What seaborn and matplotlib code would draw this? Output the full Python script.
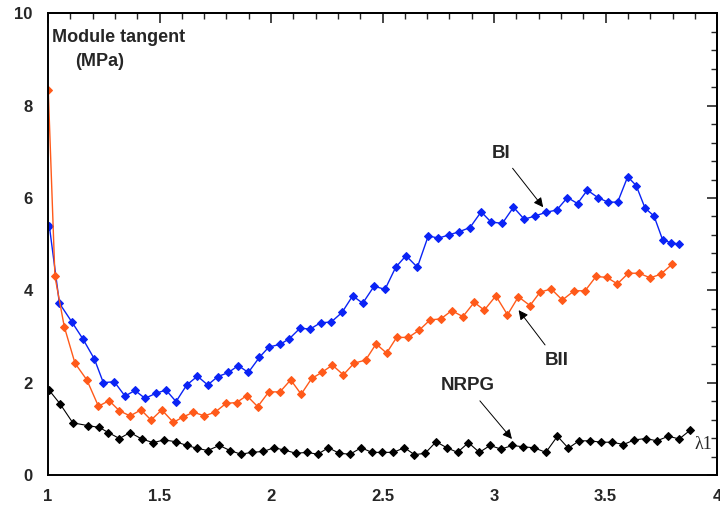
import numpy as np
import pandas as pd
import matplotlib
matplotlib.use('Agg')
import matplotlib.pyplot as plt
from matplotlib.ticker import MultipleLocator, FuncFormatter
import seaborn as sns

# data
bi_x = [1.006, 1.051, 1.106, 1.156, 1.208, 1.248, 1.297, 1.345, 1.390, 1.435, 1.484, 1.529,
        1.574, 1.622, 1.670, 1.716, 1.761, 1.809, 1.853, 1.898, 1.948, 1.990, 2.040, 2.082,
        2.130, 2.175, 2.223, 2.269, 2.318, 2.366, 2.411, 2.462, 2.511, 2.559, 2.605, 2.656,
        2.705, 2.750, 2.798, 2.844, 2.892, 2.942, 2.986, 3.037, 3.087, 3.135, 3.184, 3.233,
        3.281, 3.329, 3.374, 3.418, 3.465, 3.510, 3.554, 3.599, 3.637, 3.677, 3.717, 3.756,
        3.794, 3.831]
bi_y = [5.39, 3.72, 3.32, 2.95, 2.51, 2.00, 2.02, 1.71, 1.83, 1.66, 1.77, 1.84,
        1.59, 1.95, 2.14, 1.95, 2.13, 2.22, 2.37, 2.22, 2.55, 2.77, 2.83, 2.95,
        3.18, 3.16, 3.30, 3.31, 3.52, 3.88, 3.72, 4.09, 4.02, 4.50, 4.75, 4.50,
        5.18, 5.13, 5.20, 5.27, 5.36, 5.70, 5.48, 5.45, 5.80, 5.54, 5.61, 5.69,
        5.74, 6.01, 5.88, 6.17, 6.01, 5.91, 5.91, 6.46, 6.27, 5.78, 5.61, 5.09,
        5.03, 5.00]

bii_x = [1.001, 1.031, 1.073, 1.121, 1.174, 1.226, 1.274, 1.320, 1.368, 1.417, 1.462, 1.510,
         1.562, 1.607, 1.652, 1.701, 1.749, 1.798, 1.846, 1.891, 1.940, 1.990, 2.040, 2.088,
         2.135, 2.182, 2.227, 2.275, 2.324, 2.372, 2.424, 2.471, 2.518, 2.563, 2.616, 2.665,
         2.713, 2.761, 2.810, 2.860, 2.911, 2.956, 3.008, 3.060, 3.109, 3.161, 3.206, 3.256,
         3.306, 3.359, 3.408, 3.457, 3.505, 3.553, 3.602, 3.650, 3.700, 3.748, 3.797]
bii_y = [8.34, 4.30, 3.21, 2.42, 2.06, 1.49, 1.61, 1.39, 1.28, 1.41, 1.19, 1.41,
         1.14, 1.26, 1.36, 1.28, 1.36, 1.55, 1.57, 1.72, 1.48, 1.80, 1.80, 2.06,
         1.75, 2.09, 2.22, 2.38, 2.17, 2.42, 2.49, 2.84, 2.64, 2.98, 2.98, 3.14,
         3.36, 3.38, 3.56, 3.43, 3.74, 3.57, 3.88, 3.47, 3.86, 3.67, 3.96, 4.03,
         3.79, 3.99, 3.99, 4.30, 4.28, 4.14, 4.37, 4.37, 4.27, 4.35, 4.56]

nrpg_x = [1.006, 1.054, 1.111, 1.178, 1.230, 1.270, 1.320, 1.368, 1.420, 1.472, 1.520, 1.573,
          1.622, 1.667, 1.716, 1.768, 1.816, 1.865, 1.913, 1.966, 2.013, 2.060, 2.112, 2.160,
          2.209, 2.257, 2.306, 2.354, 2.404, 2.452, 2.499, 2.548, 2.598, 2.643, 2.691, 2.740,
          2.788, 2.836, 2.885, 2.934, 2.982, 3.031, 3.082, 3.131, 3.179, 3.232, 3.284, 3.333,
          3.381, 3.430, 3.480, 3.530, 3.580, 3.629, 3.680, 3.730, 3.782, 3.830, 3.879]
nrpg_y = [1.83, 1.54, 1.13, 1.07, 1.03, 0.92, 0.79, 0.92, 0.78, 0.70, 0.76, 0.72,
          0.64, 0.58, 0.53, 0.64, 0.53, 0.45, 0.49, 0.51, 0.59, 0.54, 0.47, 0.49,
          0.45, 0.59, 0.47, 0.45, 0.59, 0.49, 0.49, 0.49, 0.59, 0.44, 0.47, 0.72,
          0.59, 0.49, 0.70, 0.49, 0.64, 0.56, 0.64, 0.61, 0.59, 0.49, 0.84, 0.58,
          0.74, 0.74, 0.71, 0.71, 0.66, 0.76, 0.79, 0.74, 0.84, 0.78, 0.97]

blue = '#0A23F5'
orange = '#FF5A1A'

sns.set_style('white')
plt.rcParams['font.family'] = ['Liberation Sans', 'DejaVu Sans']

fig = plt.figure(figsize=(7.2, 5.12), dpi=100)
ax = fig.add_axes([0.0667, 0.0723, 0.9293, 0.9017])

sns.lineplot(x=bi_x, y=bi_y, ax=ax, color=blue, marker='D', markersize=4,
             markeredgecolor=blue, linewidth=1, sort=False)
sns.lineplot(x=bii_x, y=bii_y, ax=ax, color=orange, marker='D', markersize=4,
             markeredgecolor=orange, linewidth=1, sort=False)
sns.lineplot(x=nrpg_x, y=nrpg_y, ax=ax, color='black', marker='D', markersize=4,
             markeredgecolor='black', linewidth=0.8, sort=False)

ax.set_xlim(1, 4)
ax.set_ylim(0, 10)
ax.xaxis.set_major_locator(MultipleLocator(0.5))
ax.xaxis.set_minor_locator(MultipleLocator(0.1))
ax.yaxis.set_major_locator(MultipleLocator(2))
ax.yaxis.set_minor_locator(MultipleLocator(0.4))
ax.xaxis.set_major_formatter(FuncFormatter(lambda v, p: f'{v:g}'))
ax.yaxis.set_major_formatter(FuncFormatter(lambda v, p: f'{v:g}'))
ax.tick_params(which='major', direction='out', length=7, width=1.2, color='black',
               labelsize=12)
ax.tick_params(which='minor', direction='out', length=4, width=1, color='black')
ax.tick_params(axis='x', pad=3)
ax.tick_params(axis='y', pad=4)
for lab in ax.get_xticklabels() + ax.get_yticklabels():
    lab.set_fontweight('bold')

for s in ax.spines.values():
    s.set_color('black')
    s.set_linewidth(1.4)

# inward ticks on top and right
top = ax.secondary_xaxis('top')
top.xaxis.set_major_locator(MultipleLocator(0.5))
top.xaxis.set_minor_locator(MultipleLocator(0.1))
top.tick_params(which='major', direction='in', length=7, width=1.2, labeltop=False)
top.tick_params(which='minor', direction='in', length=4, width=1)
top.spines['top'].set_linewidth(1.4)
right = ax.secondary_yaxis('right')
right.yaxis.set_major_locator(MultipleLocator(2))
right.yaxis.set_minor_locator(MultipleLocator(0.4))
right.tick_params(which='major', direction='in', length=7, width=1.2, labelright=False)
right.tick_params(which='minor', direction='in', length=4, width=1)
right.spines['right'].set_linewidth(1.4)

ax.text(1.02, 9.47, 'Module tangent', fontsize=13, fontweight='bold', ha='left', va='center')
ax.text(1.23, 8.95, '(MPa)', fontsize=13, fontweight='bold', ha='center', va='center')

arrow = dict(arrowstyle='-|>', color='black', lw=0.7, mutation_scale=14,
             shrinkA=3, shrinkB=0)
ax.annotate('BI', xy=(3.22, 5.80), xytext=(3.03, 6.97), fontsize=13.5, fontweight='bold',
            ha='center', va='center', arrowprops=arrow)
ax.annotate('BII', xy=(3.11, 3.57), xytext=(3.28, 2.49), fontsize=13.5, fontweight='bold',
            ha='center', va='center', arrowprops=arrow)
ax.annotate('NRPG', xy=(3.08, 0.78), xytext=(2.88, 1.93), fontsize=13.5, fontweight='bold',
            ha='center', va='center', arrowprops=arrow)
ax.text(3.94, 0.65, 'λ1', fontsize=13, family=['Liberation Serif', 'DejaVu Serif'],
        ha='center', va='center')

fig.savefig('out.png', dpi=100)
